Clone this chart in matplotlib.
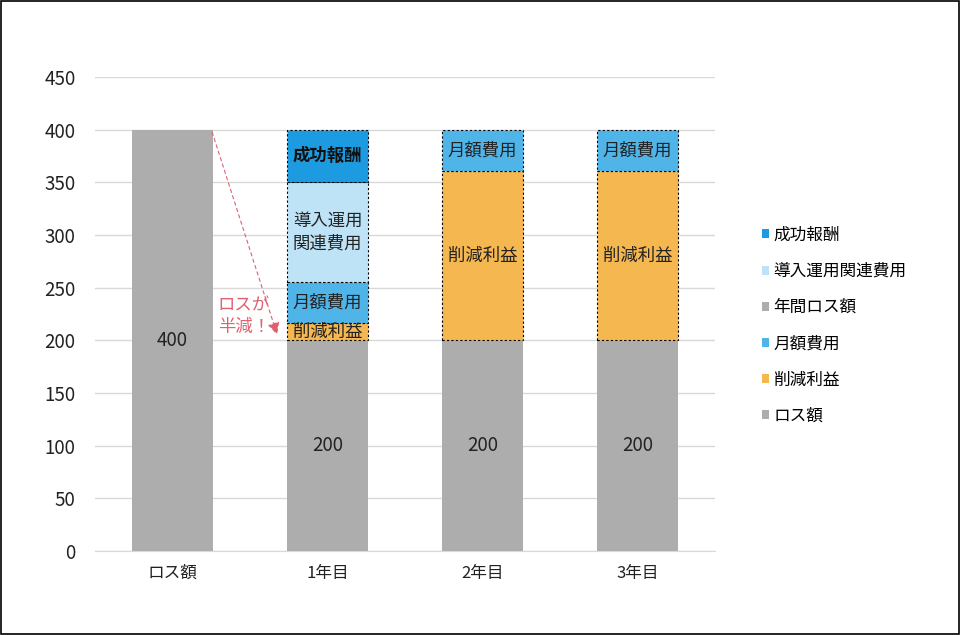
import matplotlib.pyplot as plt
from matplotlib.patches import Rectangle, Patch

plt.rcParams['font.family'] = ['Noto Sans CJK JP', 'DejaVu Sans']

# Data
categories = ['ロス額', '1年目', '2年目', '3年目']
loss_base = [0, 200, 200, 200]          # ロス額
cut_profit = [0, 16, 161, 161]          # 削減利益
monthly_fee = [0, 39, 39, 39]           # 月額費用
annual_loss = [400, 0, 0, 0]            # 年間ロス額
intro_cost = [0, 95, 0, 0]              # 導入運用関連費用
success_fee = [0, 50, 0, 0]             # 成功報酬

series = [
    ('ロス額', loss_base, '#ADADAD', False),
    ('削減利益', cut_profit, '#F5B74F', True),
    ('月額費用', monthly_fee, '#4FB4E8', True),
    ('年間ロス額', annual_loss, '#ADADAD', False),
    ('導入運用関連費用', intro_cost, '#BEE3F7', True),
    ('成功報酬', success_fee, '#1C9BE0', True),
]

fig = plt.figure(figsize=(9.6, 6.35), dpi=100)
ax = fig.add_axes([0.099, 0.132, 0.646, 0.747])

x = list(range(len(categories)))
bottom = [0] * len(categories)
handles = []
for name, vals, color, dashed in series:
    bars = ax.bar(x, vals, width=0.52, bottom=bottom, color=color,
                  edgecolor='black' if dashed else color,
                  linestyle=(0, (2, 2)) if dashed else '-',
                  linewidth=0.8 if dashed else 0, zorder=3)
    for bar, v in zip(bars, vals):
        if v == 0:
            bar.set_visible(False)
    handles.append(Patch(facecolor=color, edgecolor='none', label=name))
    bottom = [b + v for b, v in zip(bottom, vals)]

# Segment labels
fs = 12.5
ax.text(0, 200, '400', ha='center', va='center', fontsize=13.5, color='#222222', zorder=4)
for i in [1, 2, 3]:
    ax.text(i, loss_base[i] / 2, '200', ha='center', va='center', fontsize=13.5, color='#222222', zorder=4)
    b = loss_base[i]
    ax.text(i, b + cut_profit[i] / 2, '削減利益', ha='center', va='center', fontsize=fs, color='#222222', zorder=4)
    b += cut_profit[i]
    ax.text(i, b + monthly_fee[i] / 2, '月額費用', ha='center', va='center', fontsize=fs, color='#222222', zorder=4)
    b += monthly_fee[i]
b1 = loss_base[1] + cut_profit[1] + monthly_fee[1]
ax.text(1, b1 + intro_cost[1] / 2, '導入運用\n関連費用', ha='center', va='center', fontsize=fs,
        color='#222222', linespacing=1.3, zorder=4)
b1 += intro_cost[1]
ax.text(1, b1 + success_fee[1] / 2, '成功報酬', ha='center', va='center', fontsize=fs,
        color='#111111', fontweight='bold', zorder=4)

# Annotation arrow
ax.annotate('', xy=(0.68, 203), xytext=(0.25, 400),
            arrowprops=dict(arrowstyle='-|>', color='#E06070', linestyle=(0, (3, 3)),
                            linewidth=0.8, mutation_scale=18), zorder=5)
ax.text(0.46, 223, 'ロスが\n半減！', ha='center', va='center', fontsize=12.5,
        color='#E06070', linespacing=1.25, zorder=5)

ax.set_xlim(-0.5, 3.5)
ax.set_ylim(0, 450)
ax.set_yticks(range(0, 451, 50))
ax.set_xticks(x)
ax.set_xticklabels(categories, fontsize=12)
ax.tick_params(axis='y', labelsize=13.5, length=0, pad=14, colors='#222222')
ax.tick_params(axis='x', length=0, pad=10, colors='#222222')
ax.grid(axis='y', color='#D9D9D9', linewidth=1, zorder=0)
for s in ['top', 'right', 'left']:
    ax.spines[s].set_visible(False)
ax.spines['bottom'].set_color('#D9D9D9')

fig.legend(handles=handles[::-1], loc='center left', bbox_to_anchor=(0.778, 0.487),
           frameon=False, fontsize=12, handlelength=0.45, handleheight=0.45,
           handletextpad=0.25, labelspacing=1.15)

fig.patches.append(Rectangle((0.001, 0.001), 0.998, 0.997, transform=fig.transFigure,
                             fill=False, edgecolor='black', linewidth=1.2))

fig.savefig('out.png', dpi=100)
